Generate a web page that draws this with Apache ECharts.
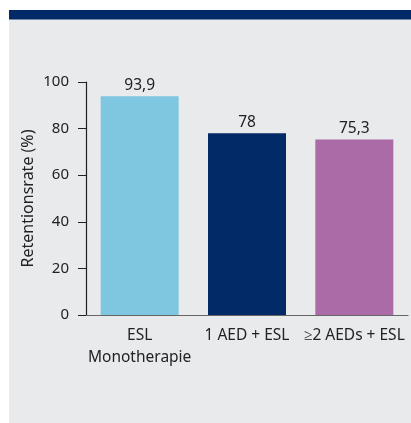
<!DOCTYPE html>
<html><head><meta charset="utf-8">
<script src="https://cdn.jsdelivr.net/npm/echarts@6/dist/echarts.min.js"></script>
<style>html,body{margin:0;padding:0;background:#fff;}#c{width:411px;height:423px;}</style>
</head><body><div id="c"></div>
<script>
const categories = ['ESL\nMonotherapie', '1 AED + ESL', '≥2 AEDs + ESL'];
const values = [93.9, 78, 75.3];
const barColors = ['#7fc6e0', '#022a66', '#aa6ba6'];
const yTicks = [0, 20, 40, 60, 80, 100];
const yName = 'Retentionsrate (%)';

const chart = echarts.init(document.getElementById('c'), null, {renderer: 'canvas'});
const font = 'Noto Sans';
chart.setOption({
  animation: false,
  textStyle: {fontFamily: font},
  graphic: [
    {type: 'rect', shape: {x: 9, y: 19, width: 402, height: 404}, style: {fill: '#e9eaec'}, z: -10, silent: true},
    {type: 'rect', shape: {x: 9, y: 10, width: 402, height: 9.5}, style: {fill: '#022a66'}, z: -9, silent: true}
  ],
  grid: {left: 86, right: 3, top: 82, bottom: 108, containLabel: false},
  xAxis: {
    type: 'category',
    data: categories,
    axisLine: {lineStyle: {color: '#666', width: 1.2}},
    axisTick: {show: false},
    axisLabel: {color: '#222', fontSize: 15.5, lineHeight: 22, margin: 10, fontFamily: font, interval: 0}
  },
  yAxis: {
    type: 'value',
    min: yTicks[0], max: yTicks[yTicks.length - 1], interval: 20,
    name: yName, nameLocation: 'middle', nameGap: 50, nameRotate: 90,
    nameMoveOverlap: false,
    nameTextStyle: {color: '#222', fontSize: 16, fontFamily: font},
    axisLine: {show: true, lineStyle: {color: '#222', width: 1.2}},
    axisTick: {show: true, length: 8, lineStyle: {color: '#222'}},
    axisLabel: {color: '#222', fontSize: 15, margin: 17, fontFamily: font},
    splitLine: {show: false}
  },
  series: [{
    type: 'bar',
    barWidth: 78,
    data: values.map((v, i) => ({value: v, itemStyle: {color: barColors[i]}})),
    label: {
      show: true, position: 'top', distance: 3, color: '#222', fontSize: 15.5, fontFamily: font,
      formatter: p => String(p.value).replace('.', ',')
    }
  }]
});
</script></body></html>
